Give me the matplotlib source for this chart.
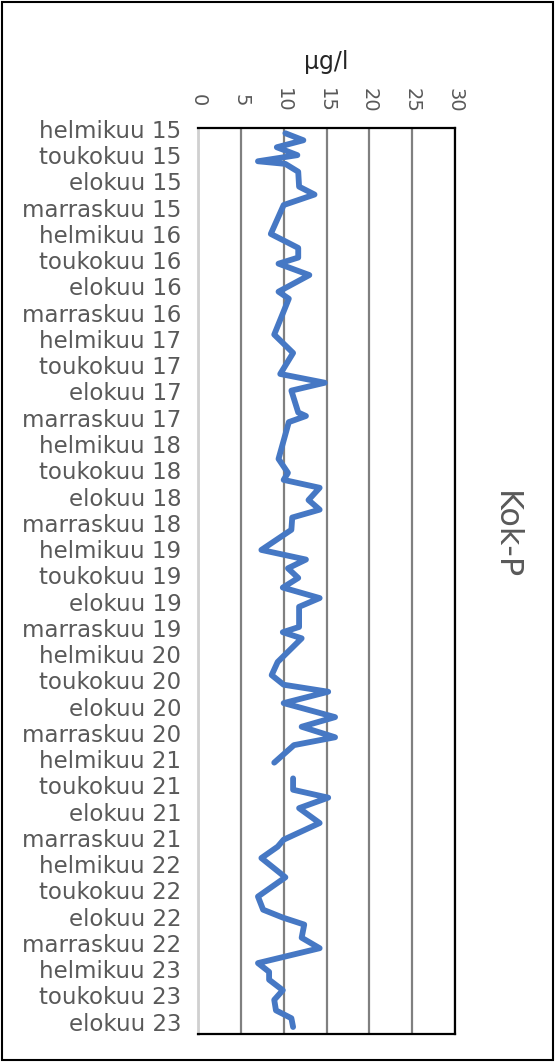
import numpy as np
import matplotlib
matplotlib.use("Agg")
import matplotlib.pyplot as plt
from matplotlib.patches import Rectangle

# Months since helmikuu 2015 (sample positions) and total P (µg/l)
months = [0.5, 1.3, 2.1, 3.0, 3.7, 4.0, 4.9, 6.6, 7.5, 8.7,
          12.0, 13.6, 14.7, 15.4, 16.7, 18.6, 19.4, 23.5, 25.6, 28.0,
          29.0, 29.9, 32.4, 32.8, 33.5, 37.7, 39.3, 40.1, 41.0, 42.4,
          43.5, 44.4, 45.8, 48.1, 49.2, 50.2, 51.3, 52.4, 53.6, 54.6,
          56.9, 57.5, 58.2, 60.9, 62.4, 63.5, 64.3, 65.6, 67.2, 68.3,
          69.5, 70.4, 72.4, 73.3,
          74.2, 75.5, 76.4, 77.6, 79.3, 81.2,
          82.0, 83.3, 85.5, 87.7, 89.2, 90.1, 90.9, 92.4, 93.6, 95.3,
          96.3, 97.2, 98.4, 99.5, 100.7, 101.6, 102.6]
kok_p = [10.2, 12.3, 9.2, 11.6, 7.0, 10.2, 11.7, 11.8, 13.6, 10.0,
         8.5, 11.7, 11.7, 9.4, 13.0, 9.4, 10.6, 8.9, 11.1, 9.6,
         14.8, 10.9, 11.7, 12.6, 10.6, 9.4, 10.5, 10.0, 14.2, 12.9,
         14.2, 11.0, 10.9, 7.4, 12.6, 10.5, 11.7, 9.9, 14.2, 11.8,
         11.8, 9.9, 12.1, 9.3, 8.6, 10.0, 15.2, 10.0, 16.0, 12.1,
         16.0, 11.2, 8.9, np.nan,
         11.1, 11.1, 15.2, 11.8, 14.2, 10.0,
         9.3, 7.4, 10.2, 7.0, 7.6, 9.9, 12.4, 12.1, 14.2, 7.0,
         8.3, 8.3, 9.9, 8.9, 9.1, 10.9, 11.1]

month_names = ["helmikuu", "toukokuu", "elokuu", "marraskuu"]
years = [15, 16, 17, 18, 19, 20, 21, 22, 23]
x_ticks = [0, 5, 10, 15, 20, 25, 30]

tick_labels = [f"{m} {y}" for y in years for m in month_names][:35]
tick_pos = np.arange(len(tick_labels)) * 3

fig = plt.figure(figsize=(5.55, 10.62), dpi=100)
ax = fig.add_axes([198 / 555, 1 - 1034 / 1062, 257 / 555, 906 / 1062])

ax.plot(kok_p, months, color="#4678c4", linewidth=4.2,
        solid_joinstyle="round", solid_capstyle="round", zorder=3)

ax.set_xlim(0, 30)
ax.set_ylim(103.4, -0.1)
ax.xaxis.tick_top()
ax.set_xticks(x_ticks)
ax.set_xticklabels([str(t) for t in x_ticks], rotation=-90, va="center",
                   ha="center", fontsize=14, color="#595959")
ax.tick_params(axis="x", length=0, pad=20)
ax.set_yticks(tick_pos)
ax.set_yticklabels(tick_labels, fontsize=16.5, color="#595959")
ax.tick_params(axis="y", length=0, pad=12)

ax.grid(axis="x", color="#808080", linewidth=1.6)
ax.set_axisbelow(True)
for side in ["top", "bottom", "right"]:
    ax.spines[side].set_color("black")
    ax.spines[side].set_linewidth(1.6)
ax.spines["left"].set_color("#d0d0d0")
ax.spines["left"].set_linewidth(2)

fig.text(326 / 555, 1 - 62 / 1062, "µg/l", ha="center", va="center",
         fontsize=17, color="#262626")
fig.text(505 / 555, 1 - 535 / 1062, "Kok-P", ha="center", va="center",
         rotation=-90, fontsize=23, color="#595959")

fig.patches.append(Rectangle((0.003, 0.002), 0.994, 0.996,
                             transform=fig.transFigure, fill=False,
                             edgecolor="black", linewidth=1.5))

fig.savefig("out.png", dpi=100)
